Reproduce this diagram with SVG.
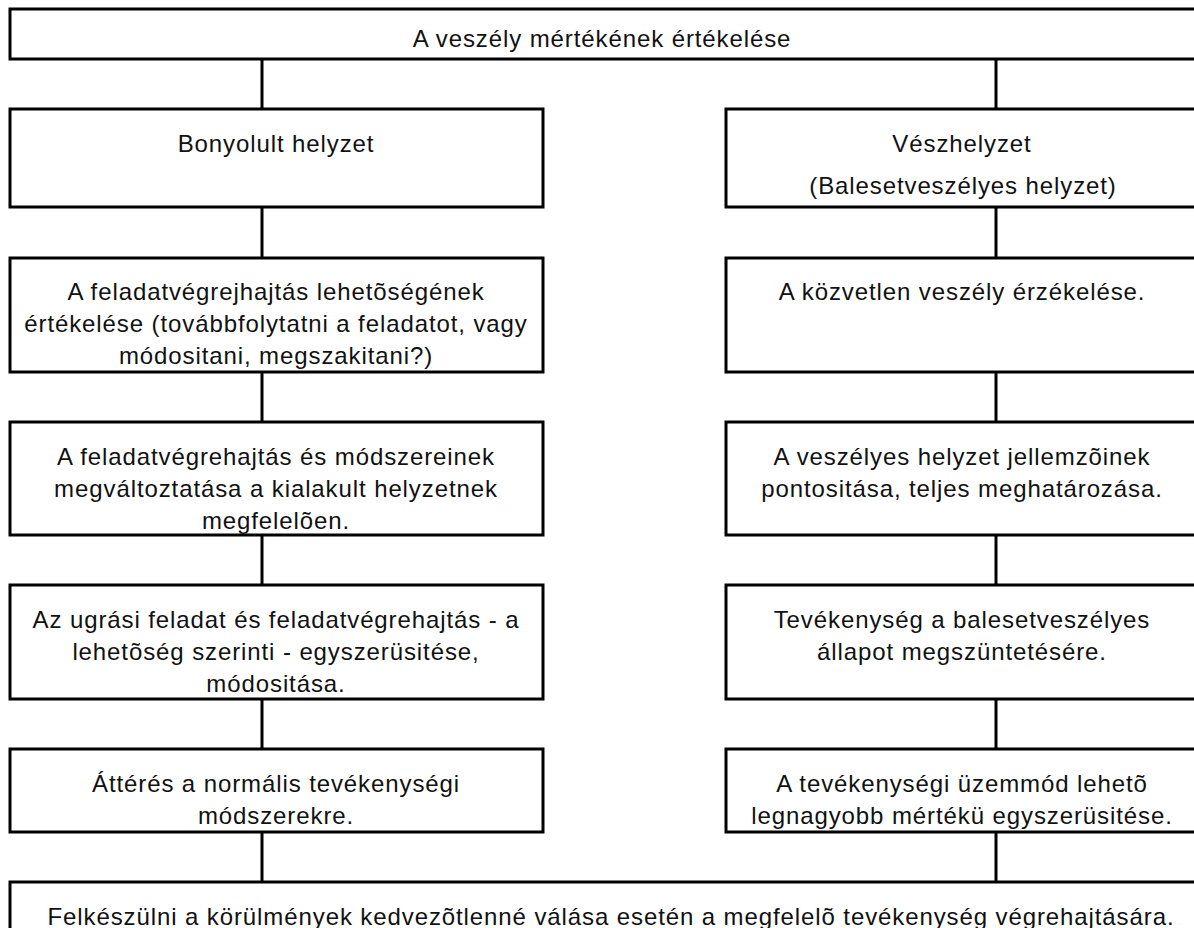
<svg xmlns="http://www.w3.org/2000/svg" width="1194" height="928" viewBox="0 0 1194 928">
<style>
.box{fill:#fff;stroke:#000;stroke-width:3}
.con{stroke:#000;stroke-width:3;fill:none}
text{font-family:"Liberation Sans",Arial,sans-serif;font-size:24px;letter-spacing:0.9px;fill:#111;text-anchor:middle}
.l{}
</style>
<rect width="1194" height="928" fill="#fff"/>
<g id="connectors">
<line class="con" x1="262" y1="59" x2="262" y2="109"/>
<line class="con" x1="996" y1="59" x2="996" y2="109"/>
<line class="con" x1="262" y1="207" x2="262" y2="258"/>
<line class="con" x1="996" y1="207" x2="996" y2="258"/>
<line class="con" x1="262" y1="372" x2="262" y2="422"/>
<line class="con" x1="996" y1="372" x2="996" y2="422"/>
<line class="con" x1="262" y1="535" x2="262" y2="585"/>
<line class="con" x1="996" y1="535" x2="996" y2="585"/>
<line class="con" x1="262" y1="699" x2="262" y2="749"/>
<line class="con" x1="996" y1="699" x2="996" y2="749"/>
<line class="con" x1="262" y1="832" x2="262" y2="882"/>
<line class="con" x1="996" y1="832" x2="996" y2="882"/>
</g>
<g id="top">
<rect class="box" x="10" y="9" width="1200" height="50"/>
<text x="602" y="47">A veszély mértékének értékelése</text>
</g>
<g id="bonyolult">
<rect class="box" x="10" y="109" width="533" height="98"/>
<text x="276" y="152">Bonyolult helyzet</text>
</g>
<g id="veszhelyzet">
<rect class="box" x="726" y="109" width="480" height="98"/>
<text x="962" y="152">Vészhelyzet</text>
<text x="963" y="194">(Balesetveszélyes helyzet)</text>
</g>
<g id="l2">
<rect class="box" x="10" y="258" width="533" height="114"/>
<text x="276" y="300">A feladatvégrejhajtás lehetõségének</text>
<text x="276" y="332">értékelése (továbbfolytatni a feladatot, vagy</text>
<text x="276" y="364">módositani, megszakitani?)</text>
</g>
<g id="r2">
<rect class="box" x="726" y="258" width="480" height="114"/>
<text x="962" y="300">A közvetlen veszély érzékelése.</text>
</g>
<g id="l3">
<rect class="box" x="10" y="422" width="533" height="113"/>
<text x="276" y="465">A feladatvégrehajtás és módszereinek</text>
<text x="276" y="497">megváltoztatása a kialakult helyzetnek</text>
<text x="276" y="529">megfelelõen.</text>
</g>
<g id="r3">
<rect class="box" x="726" y="422" width="480" height="113"/>
<text x="962" y="465">A veszélyes helyzet jellemzõinek</text>
<text x="962" y="497">pontositása, teljes meghatározása.</text>
</g>
<g id="l4">
<rect class="box" x="10" y="585" width="533" height="114"/>
<text x="276" y="628">Az ugrási feladat és feladatvégrehajtás - a</text>
<text x="276" y="660">lehetõség szerinti - egyszerüsitése,</text>
<text x="276" y="692">módositása.</text>
</g>
<g id="r4">
<rect class="box" x="726" y="585" width="480" height="114"/>
<text x="962" y="628">Tevékenység a balesetveszélyes</text>
<text x="962" y="660">állapot megszüntetésére.</text>
</g>
<g id="l5">
<rect class="box" x="10" y="749" width="533" height="83"/>
<text x="276" y="792">Áttérés a normális tevékenységi</text>
<text x="276" y="824">módszerekre.</text>
</g>
<g id="r5">
<rect class="box" x="726" y="749" width="480" height="83"/>
<text x="962" y="792">A tevékenységi üzemmód lehetõ</text>
<text x="962" y="824">legnagyobb mértékü egyszerüsitése.</text>
</g>
<g id="bottom">
<rect class="box" x="10" y="882" width="1200" height="80"/>
<text x="611" y="925">Felkészülni a körülmények kedvezõtlenné válása esetén a megfelelõ tevékenység végrehajtására.</text>
</g>
</svg>
